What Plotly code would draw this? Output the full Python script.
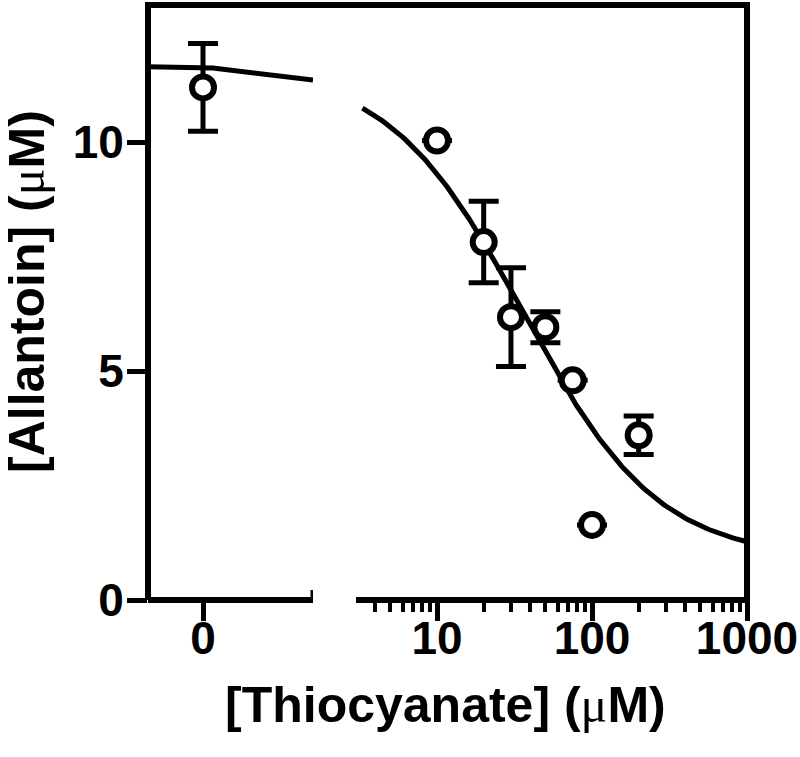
import numpy as np
import plotly.graph_objects as go

# measured points (thiocyanate uM, allantoin uM, SEM)
zero_conc = [0]
zero_mean = [11.2]
zero_err = [0.96]

conc = [10, 20, 30, 50, 75, 100, 200]
allantoin = [10.04, 7.82, 6.18, 5.96, 4.80, 1.64, 3.60]
sem = [0, 0.89, 1.08, 0.34, 0, 0, 0.42]

# fitted inhibition curve parameters: top, bottom, IC50, hill slope
fit_top = 11.65
fit_bottom = 0.9
fit_ic50 = 36.0
fit_hill = 1.0

x_ticks_log = [10, 100, 1000]
x_minor_log = [4, 5, 6, 7, 8, 9, 20, 30, 40, 50, 60, 70, 80, 90,
               200, 300, 400, 500, 600, 700, 800, 900]
y_ticks = [0, 5, 10]


def hill(x):
    x = np.clip(x, 0, None)
    return fit_bottom + (fit_top - fit_bottom) / (1 + (x / fit_ic50) ** fit_hill)


FONT = "Liberation Sans, Arial, sans-serif"
MU = "<span style='font-family:Liberation Serif, serif;font-weight:normal'>μ</span>"

left_range = [-0.5, 1.0]
log_lo = np.log10(3)

fig = go.Figure()

# curve on the linear (zero) segment
xl = np.linspace(left_range[0], left_range[1], 80)
fig.add_trace(go.Scatter(x=xl, y=hill(xl), mode="lines", xaxis="x", yaxis="y",
                         line=dict(color="black", width=5), hoverinfo="skip"))
# curve on log segment
xr = np.logspace(np.log10(3.3), 3, 200)
fig.add_trace(go.Scatter(x=xr, y=hill(xr), mode="lines", xaxis="x2", yaxis="y",
                         line=dict(color="black", width=5), hoverinfo="skip"))

marker = dict(symbol="circle", size=22, color="white", line=dict(color="black", width=6))
errstyle = dict(type="data", visible=True, color="black", thickness=5, width=15)

fig.add_trace(go.Scatter(x=zero_conc, y=zero_mean, mode="markers", xaxis="x", yaxis="y",
                         marker=marker, error_y=dict(array=zero_err, **errstyle)))
fig.add_trace(go.Scatter(x=conc, y=allantoin, mode="markers", xaxis="x2", yaxis="y",
                         marker=marker, error_y=dict(array=sem, **errstyle)))

L, R, T, B = 148, 53, 5, 157
pw = 800 - L - R
left_end = (313 - L) / pw
right_start = (356 - L) / pw

axis_common = dict(showline=False, showgrid=False, zeroline=False,
                   ticks="outside", tickcolor="black", tickwidth=5, ticklen=20,
                   automargin=False, ticklabeloverflow="allow",
                   tickfont=dict(family=FONT, size=46, color="black", weight="bold"))

fig.update_layout(
    width=800, height=757,
    margin=dict(l=L, r=R, t=T, b=B),
    plot_bgcolor="white", paper_bgcolor="white",
    showlegend=False,
    xaxis=dict(domain=[0, left_end], range=left_range, tickmode="array",
               tickvals=[0], ticktext=["0"], anchor="y", ticklabelstandoff=-22,
               **axis_common),
    xaxis2=dict(domain=[right_start, 1], type="log", range=[log_lo, 3], tickmode="array",
                tickvals=x_ticks_log, ticktext=[str(v) for v in x_ticks_log], anchor="y",
                ticklabelstandoff=-22,
                minor=dict(tickmode="array", tickvals=x_minor_log, ticks="outside",
                           ticklen=11, tickwidth=4, tickcolor="black", showgrid=False),
                **axis_common),
    yaxis=dict(domain=[0, 1], range=[0, 13], tickmode="array", tickvals=y_ticks,
               anchor="x", ticklabelstandoff=-6, **axis_common),
)

# axis lines: left, top and right frame plus the two bottom segments
line = dict(color="black", width=6)
fig.add_shape(type="path", xref="paper", yref="paper",
              path=f"M 0,0 L 0,1 L 1,1 L 1,0 L {right_start},0", line=line)
fig.add_shape(type="path", xref="paper", yref="paper",
              path=f"M 0,0 L {left_end},0", line=line)
# break caps
fig.add_shape(type="line", xref="x", yref="y", x0=left_range[1], x1=left_range[1],
              ysizemode="pixel", yanchor=0, y0=-14, y1=10, line=dict(color="black", width=5))
fig.add_shape(type="line", xref="x2", yref="y", x0=log_lo, x1=log_lo,
              ysizemode="pixel", yanchor=0, y0=-14, y1=10, line=dict(color="black", width=5))

fig.add_annotation(text="[Thiocyanate] (" + MU + "M)", xref="paper", yref="paper",
                   x=(445 - L) / pw, y=(600 - 705) / 595, showarrow=False,
                   xanchor="center", yanchor="middle",
                   font=dict(family=FONT, size=50, color="black", weight="bold"))
fig.add_annotation(text="[Allantoin] (" + MU + "M)", xref="paper", yref="paper",
                   x=(27 - L) / pw, y=(600 - 292) / 595, showarrow=False, textangle=-90,
                   xanchor="center", yanchor="middle",
                   font=dict(family=FONT, size=50, color="black", weight="bold"))

# drop the default 8px body margin so the figure sits at the page corner
fig.write_html("out.html", config={"displayModeBar": False},
               post_script="document.body.style.margin='0px';")
